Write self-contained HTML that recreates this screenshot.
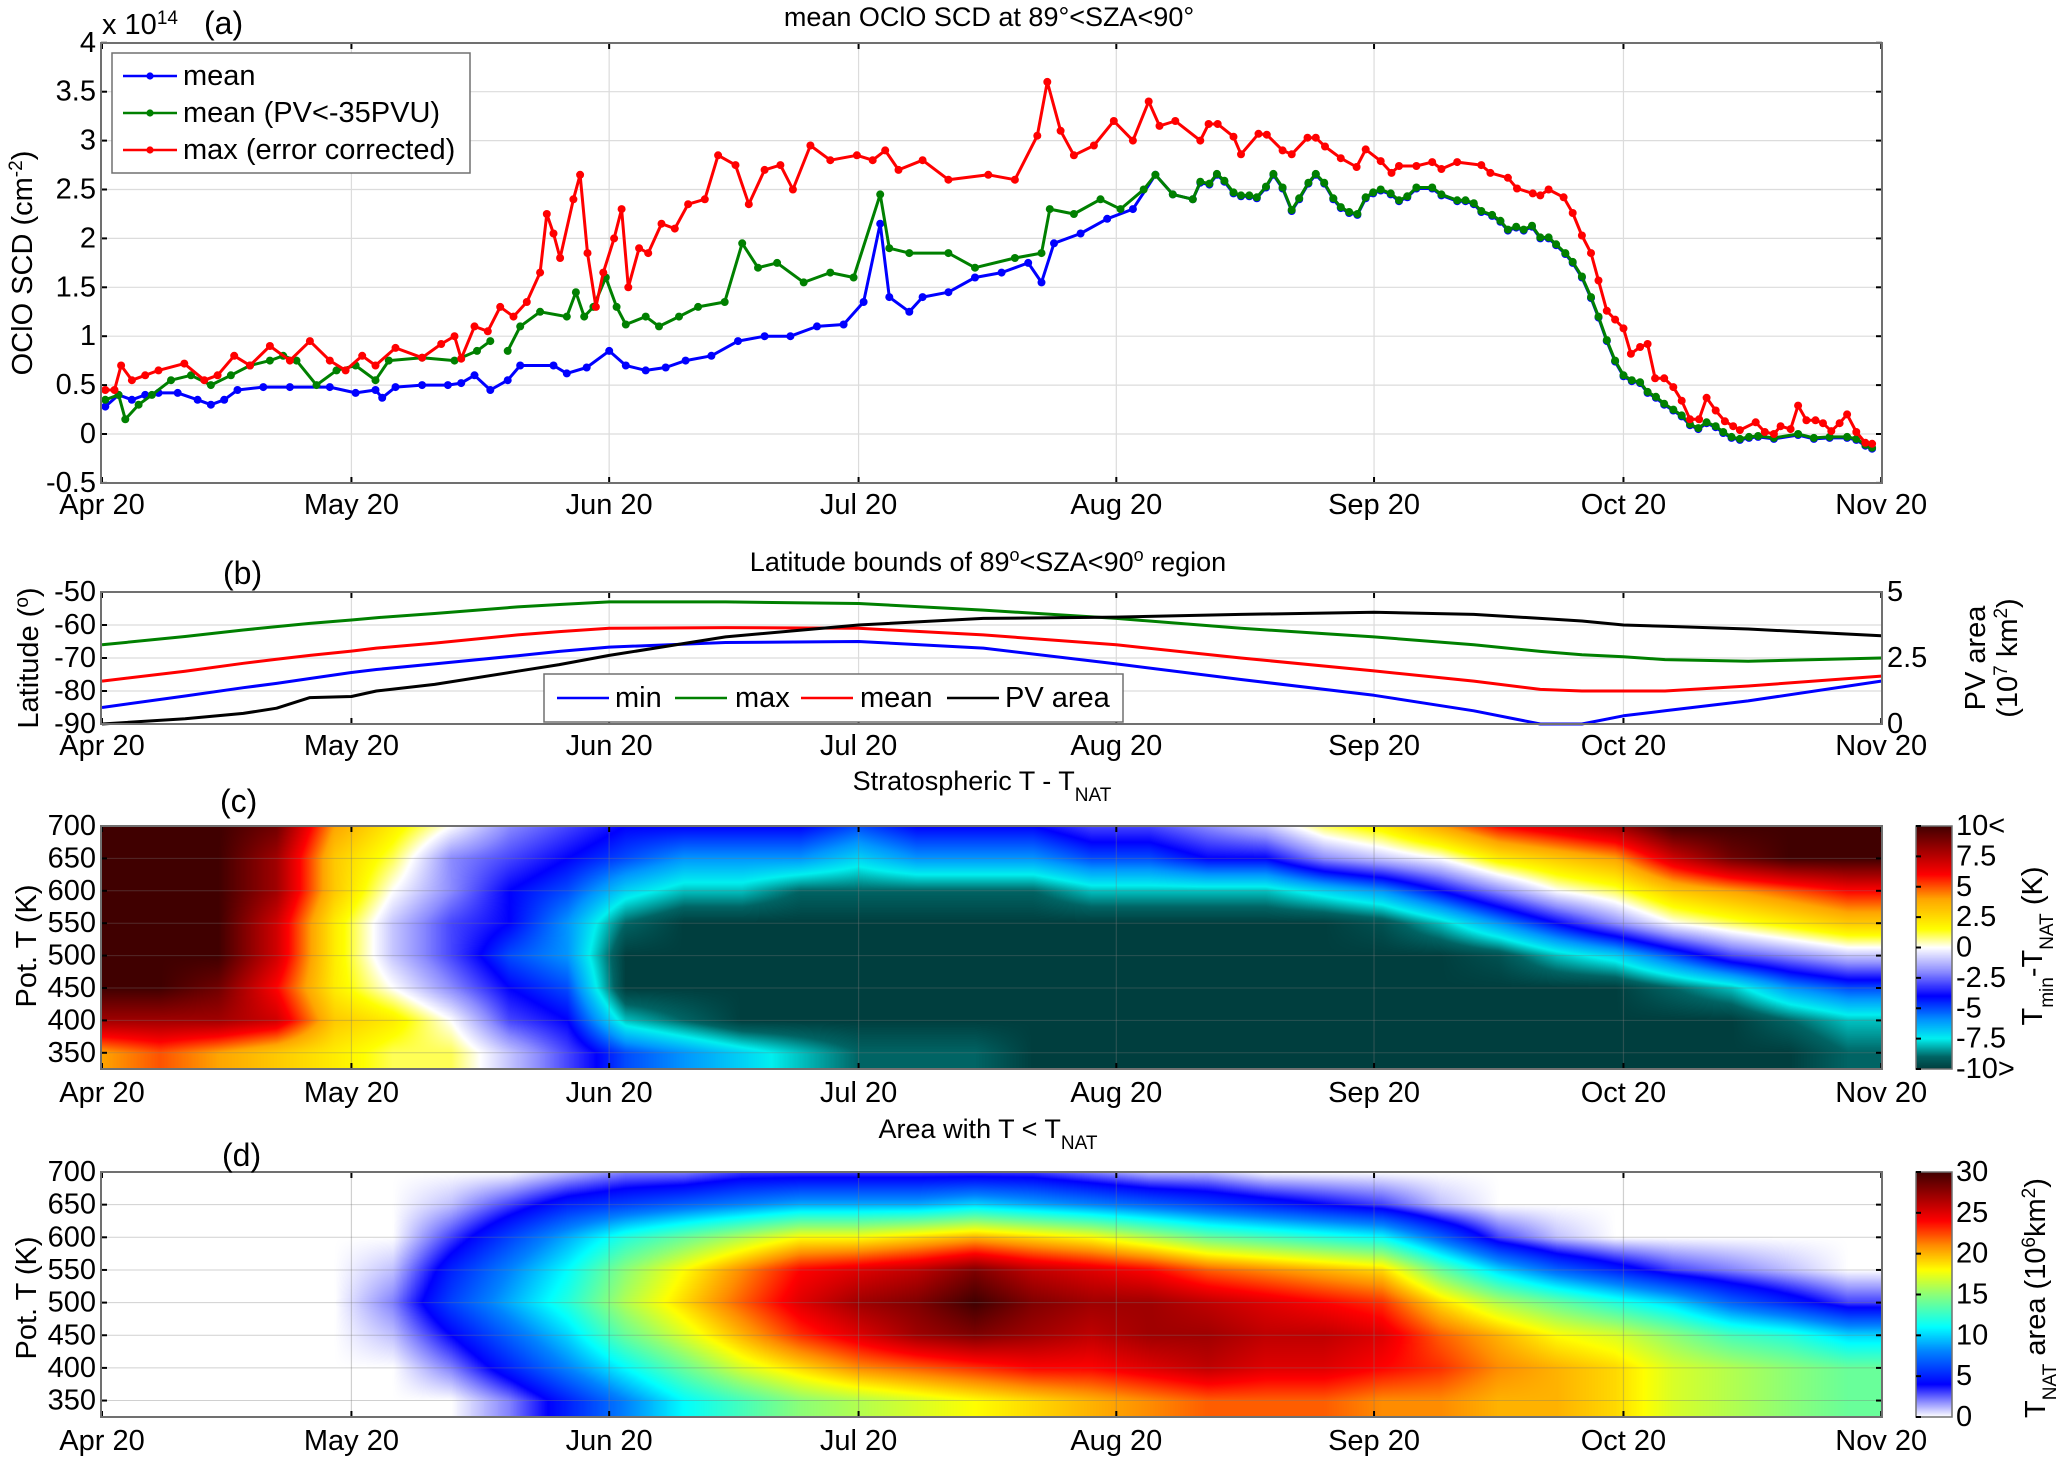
<!DOCTYPE html>
<html><head><meta charset="utf-8">
<style>
html,body{margin:0;padding:0;background:#fff;}
#wrap{position:relative;width:2067px;height:1459px;overflow:hidden;background:#fff;}
#heat{position:absolute;left:0;top:0;}
#fig{position:absolute;left:0;top:0;}
text{font-family:"Liberation Sans",Arial,sans-serif;fill:#000;}
</style></head>
<body>
<div id="wrap">
<canvas id="heat" width="2067" height="1459"></canvas>
<svg id="fig" width="2067" height="1459" xmlns="http://www.w3.org/2000/svg"></svg>
</div>
<script>
// ---------- Panel (a) data (days since Apr 20) ----------
const blueEarlyDays=[0.4,2,3.6,5.2,6.8,9.1,11.5,13.1,14.7,16.3,19.4,22.6,27.4,30.5,32.9,33.7,35.3,38.5,41.6,43.2,44.8,46.7,48.8,50.3,54.3,55.9,58.3,61,63,65.4,67.8,70.2,73.3,76.5,79.7,82.8,86,89.2,91.6,93.6,94.7,97.1,98.7,101.8,105,108.2,111.4,113,114.5,117.7,120.9,124,126.7,128.8,131.2];
const blueEarlyVals=[0.28,0.4,0.35,0.4,0.42,0.42,0.35,0.3,0.35,0.45,0.48,0.48,0.48,0.42,0.45,0.37,0.48,0.5,0.5,0.52,0.6,0.45,0.55,0.7,0.7,0.62,0.68,0.85,0.7,0.65,0.68,0.75,0.8,0.95,1.0,1.0,1.1,1.12,1.35,2.15,1.4,1.25,1.4,1.45,1.6,1.65,1.75,1.55,1.95,2.05,2.2,2.3,2.65,2.45,2.4];
const greenEarlyDays=[0.4,2,2.8,4.4,6,8.3,10.7,13.1,15.5,17.8,20.2,21.8,23.4,25.8,28.2,30.5,32.9,34.5,38.5,42.4,45.1,46.7,47.7,48.8,50.3,52.7,55.9,57,58,59.1,60.6,61.9,63,65.4,67,69.4,71.7,74.9,77,78.9,81.2,84.4,87.6,90.4,93.6,94.7,97.1,101.8,105,109.8,113,114,116.9,120.1,122.5,125.3,126.7,128.8,131.2];
const greenEarlyVals=[0.35,0.4,0.15,0.3,0.4,0.55,0.6,0.5,0.6,0.7,0.75,0.8,0.75,0.5,0.65,0.7,0.55,0.75,0.78,0.75,0.85,0.95,null,0.85,1.1,1.25,1.2,1.45,1.2,1.3,1.6,1.3,1.12,1.2,1.1,1.2,1.3,1.35,1.95,1.7,1.75,1.55,1.65,1.6,2.45,1.9,1.85,1.85,1.7,1.8,1.85,2.3,2.25,2.4,2.3,2.5,2.65,2.45,2.4];
const lateDays=[132.1,133.2,134.1,135,136.1,137,138,138.9,140,140.9,142,143.1,144,145.1,146,147,148.1,149,150,151,152,152.9,153.8,155,156,157,158.1,160,161.1,163,164,165,165.9,167.2,168.2,169.1,170.1,171,172,173,174,174.9,176,176.9,178,179.1,180,181,182,183,184,185,185.9,186.9,187.9,189,190,191,192,193,194.1,195,196,197,198.1,199.2,201.1,204,205.9,207.8,209.9,211,212.1,212.9];
const lateVals=[2.58,2.56,2.66,2.59,2.47,2.44,2.44,2.42,2.53,2.66,2.52,2.29,2.41,2.57,2.66,2.57,2.41,2.32,2.27,2.25,2.42,2.47,2.5,2.46,2.39,2.43,2.52,2.52,2.45,2.39,2.39,2.36,2.28,2.24,2.18,2.09,2.12,2.09,2.13,2.01,2.01,1.94,1.85,1.76,1.61,1.4,1.2,0.96,0.75,0.6,0.55,0.53,0.43,0.38,0.31,0.25,0.19,0.1,0.06,0.12,0.08,0.02,-0.03,-0.05,-0.03,-0.02,-0.04,0,-0.04,-0.03,-0.03,-0.05,-0.11,-0.14];
const redDays=[0.4,1.5,2.3,3.6,5.2,6.8,9.9,12.3,13.9,15.9,17.8,20.2,22.6,25,27.4,29.3,31.3,32.9,35.3,38.5,40.8,42.4,43.2,44.8,46.4,47.9,49.5,51.1,52.7,53.5,54.3,55.1,56.7,57.5,58.4,59.4,60.3,61.6,62.5,63.3,64.6,65.7,67.3,68.9,70.5,72.5,74.1,76.2,77.8,79.7,81.6,83.1,85.2,87.6,90.8,92.7,94.2,95.8,98.7,101.8,106.6,109.8,112.5,113.7,115.3,116.9,119.3,121.7,124,125.9,127.2,129.1,132.1,133.1,134.2,136.1,137,139.1,140.1,142,143.1,145,146,147.1,149,150.9,152,153.8,155.1,156,158.1,160,161.1,163,165.9,167,169.1,170.2,172.1,173,174,175.8,176.9,178,179.1,180,181,182,183,183.9,185,185.9,186.8,187.9,189,190,191,192.1,193,194.1,195.2,196.2,197,198.9,200,201.1,201.9,203.1,204,205,206.1,207,208,209,209.9,211,212.1,212.9];
const redVals=[0.45,0.45,0.7,0.55,0.6,0.65,0.72,0.55,0.6,0.8,0.7,0.9,0.75,0.95,0.75,0.65,0.8,0.7,0.88,0.78,0.92,1.0,0.77,1.1,1.05,1.3,1.2,1.35,1.65,2.25,2.05,1.8,2.4,2.65,1.85,1.3,1.65,2.0,2.3,1.5,1.9,1.85,2.15,2.1,2.35,2.4,2.85,2.75,2.35,2.7,2.75,2.5,2.95,2.8,2.85,2.8,2.9,2.7,2.8,2.6,2.65,2.6,3.05,3.6,3.1,2.85,2.95,3.2,3.0,3.4,3.15,3.2,3.0,3.17,3.17,3.04,2.86,3.07,3.06,2.9,2.86,3.03,3.03,2.94,2.82,2.73,2.91,2.79,2.67,2.74,2.74,2.78,2.71,2.78,2.75,2.67,2.62,2.51,2.46,2.44,2.5,2.42,2.26,2.03,1.85,1.57,1.26,1.17,1.08,0.82,0.89,0.92,0.57,0.57,0.48,0.34,0.15,0.15,0.37,0.24,0.13,0.08,0.04,0.12,0.02,0,0.08,0.05,0.29,0.14,0.14,0.11,0.03,0.11,0.2,0.02,-0.09,-0.1];
const aTicks=[-0.5,0,0.5,1,1.5,2,2.5,3,3.5,4];
const aTickLabels=["-0.5","0","0.5","1","1.5","2","2.5","3","3.5","4"];
const monthDays=[0,30,61,91,122,153,183,214];
const monthLabels=["Apr 20","May 20","Jun 20","Jul 20","Aug 20","Sep 20","Oct 20","Nov 20"];

// ---------- Panel (b) data ----------
const bDays=[0,10,17,21,25,30,33,40,50,55,61,75,91,106,122,137,153,165,173,178,183,188,198,214];
const latMin=[-85,-81.5,-79,-77.7,-76.2,-74.4,-73.5,-71.8,-69.3,-68,-66.7,-65.3,-65,-67,-71.8,-76.5,-81.3,-86,-90,-90,-87.5,-86,-83,-77];
const latMax=[-66,-63.5,-61.5,-60.5,-59.5,-58.5,-57.8,-56.5,-54.5,-53.8,-53,-53,-53.5,-55.5,-58,-61,-63.6,-66,-68,-69,-69.6,-70.5,-71,-70];
const latMean=[-77,-74,-71.6,-70.4,-69.2,-67.9,-67,-65.5,-63,-62,-61,-60.8,-61,-63,-66,-70,-73.9,-77,-79.5,-80,-80,-80,-78.5,-75.5];
const pvArea=[0,0.2,0.4,0.6,1.0,1.04,1.25,1.5,2.0,2.25,2.6,3.3,3.75,4.0,4.05,4.15,4.23,4.15,4.0,3.9,3.75,3.7,3.6,3.34];
const bLatTicks=[-90,-80,-70,-60,-50];
const bPvTicks=[0,2.5,5];

// ---------- Panel (c) data: T - T_NAT (K), columns every 7 days ----------
const heatDays=[0,7,14,21,28,35,42,49,56,63,70,77,84,91,98,105,112,119,126,133,140,147,154,161,168,175,182,189,196,203,210,217];
const thetaLevels=[700,650,600,550,500,450,400,350];
const cRow700=[10,10,10,9,4,2,0,-2,-3,-4,-4,-4,-4,-5,-4,-4,-4,-3,-3,-2,-1,1,2,4,6,7,8,10,10,10,10,10];
const cRow650=[10,10,10,8,3,1,-2,-3,-4,-5,-6,-6,-6,-7,-6,-6,-6,-5,-5,-4,-4,-2,-1,0,2,3,4,7,9,10,10,10];
const cRow600=[10,10,10,8,3,0,-2,-4,-5,-7,-8,-8,-9,-9,-9,-9,-9,-8,-8,-8,-8,-7,-6,-4,-2,0,1,3,4,5,6,6];
const cRow550=[10,10,10,7,2,-1,-3,-4,-6,-9,-10,-10,-10,-10,-10,-10,-10,-10,-10,-10,-10,-10,-9.5,-8,-6,-4,-2,0,1,2,3,3];
const cRow500=[10,10,10,7,2,-1,-3,-5,-6,-10,-10,-10,-10,-10,-10,-10,-10,-10,-10,-10,-10,-10,-10,-10,-9.5,-8,-7,-5,-3,-2,-1,-1];
const cRow450=[10,10,9,6,2,0,-2,-4,-5,-10,-10,-10,-10,-10,-10,-10,-10,-10,-10,-10,-10,-10,-10,-10,-10,-10,-10,-9,-8,-6,-5,-5];
const cRow400=[8,8,8,7,3,2,0,-3,-4,-8,-9,-10,-10,-10,-10,-10,-10,-10,-10,-10,-10,-10,-10,-10,-10,-10,-10,-10,-10,-9,-8,-8];
const cRow350=[4,5,4,3,2,1,1,-1,-3,-5,-6,-7,-8,-9,-9,-9,-10,-10,-10,-10,-10,-10,-10,-10,-10,-10,-10,-10,-10,-10,-9,-9];
const cTickVals=[10,7.5,5,2.5,0,-2.5,-5,-7.5,-10];
const cTickLabels=["10<","7.5","5","2.5","0","-2.5","-5","-7.5","-10>"];

// ---------- Panel (d) data: area T<T_NAT (10^6 km^2) ----------
const dRow700=[0,0,0,0,0,0,0,0,1,2,2,3,3,3,3,3,3,2,1,1,0,0,0,0,0,0,0,0,0,0,0,0];
const dRow650=[0,0,0,0,0,0,1,3,5,6,7,8,9,9,9,10,9,8,7,6,5,4,3,1,0,0,0,0,0,0,0,0];
const dRow600=[0,0,0,0,0,0,3,6,9,12,14,16,18,18,19,20,19,18,16,14,13,12,11,7,3,1,0,0,0,0,0,0];
const dRow550=[0,0,0,0,0,1,5,8,11,15,18,21,24,25,26,28,26,25,24,22,21,20,19,14,10,7,5,3,2,1,0,0];
const dRow500=[0,0,0,0,0,2,6,9,12,16,19,22,25,27,28,30,28,27,27,26,25,24,23,19,16,14,12,10,7,5,3,3];
const dRow450=[0,0,0,0,0,1,4,7,10,14,17,20,23,25,27,28,27,26,27,27,26,26,25,22,20,18,17,15,13,12,10,10];
const dRow400=[0,0,0,0,0,0,2,5,8,11,14,17,19,21,22,23,24,24,25,26,25,25,24,23,21,20,19,17,16,15,14,14];
const dRow350=[0,0,0,0,0,0,0,2,5,8,11,13,15,16,17,18,19,20,21,22,22,22,21,21,20,20,19,17,16,15,14,14];
const dTickVals=[0,5,10,15,20,25,30];
const thetaTicks=[350,400,450,500,550,600,650,700];

// ---------- geometry / scales ----------
const L=101,R=1882;
const X=d=>102+d*8.314;
const Ya=v=>434-v*97.8;
const Yb=lat=>592+(-50-lat)*3.3;
const Ybr=p=>724-p*26.4;
const Yc=th=>826+(700-th)*0.648;
const Yd=th=>1172+(700-th)*0.653;
const CB_X=1916,CB_W=36;

const NS="http://www.w3.org/2000/svg";
const svg=document.getElementById('fig');
function add(parent,tag,attrs,name,text){
  const el=document.createElementNS(NS,tag);
  for(const k in attrs) el.setAttribute(k,attrs[k]);
  
  
  if(text!==undefined) el.textContent=text;
  parent.appendChild(el);
  return el;
}
function group(name){const g=document.createElementNS(NS,'g');svg.appendChild(g);return g;}

const FS=29;
function xAxis(g,top,bot,labelY,grid){
  monthDays.forEach((d,i)=>{
    const x=X(d);
    if(grid && i>0 && i<monthDays.length-1) add(g,'line',{x1:x,x2:x,y1:top,y2:bot,stroke:grid,'stroke-width':1.2},'x-gridline');
    add(g,'line',{x1:x,x2:x,y1:bot,y2:bot-6,stroke:'#000','stroke-width':2},'x-tick');
    add(g,'line',{x1:x,x2:x,y1:top,y2:top+6,stroke:'#000','stroke-width':2},'x-tick-top');
    add(g,'text',{x:x,y:labelY,'font-size':FS,'text-anchor':'middle','dominant-baseline':'central'},'x-tick-label',monthLabels[i]);
  });
}
function box(g,top,bot){
  add(g,'rect',{x:L,y:top,width:R-L,height:bot-top,fill:'none',stroke:'#707070','stroke-width':2},'axes-box');
}
function polyline(g,days,vals,yf,color,name,markers){
  let segs=[],cur=[];
  const n=Math.min(days.length,vals.length);
  for(let i=0;i<n;i++){
    if(vals[i]===null){if(cur.length)segs.push(cur);cur=[];continue;}
    cur.push([X(days[i]),yf(vals[i])]);
  }
  if(cur.length)segs.push(cur);
  segs.forEach(s=>{
    add(g,'polyline',{points:s.map(p=>p[0].toFixed(1)+','+p[1].toFixed(1)).join(' '),fill:'none',stroke:color,'stroke-width':3,'stroke-linejoin':'round'},name+'-line');
    if(markers) s.forEach(p=>add(g,'circle',{cx:p[0].toFixed(1),cy:p[1].toFixed(1),r:4,fill:color},name+'-point'));
  });
}

// ================= Panel (a) =================
const ga=group('panel-a');
aTicks.forEach((v,i)=>{
  const y=Ya(v);
  if(i>0&&i<aTicks.length-1) add(ga,'line',{x1:L,x2:R,y1:y,y2:y,stroke:'#dcdcdc','stroke-width':1.2},'y-gridline');
  add(ga,'line',{x1:L,x2:L+6,y1:y,y2:y,stroke:'#000','stroke-width':2},'y-tick');
  add(ga,'line',{x1:R,x2:R-6,y1:y,y2:y,stroke:'#000','stroke-width':2},'y-tick-right');
  add(ga,'text',{x:96,y:y,'font-size':FS,'text-anchor':'end','dominant-baseline':'central'},'y-tick-label',aTickLabels[i]);
});
xAxis(ga,43,483,505,'#dcdcdc');
polyline(ga,blueEarlyDays.concat(lateDays),blueEarlyVals.concat(lateVals.map(v=>v-0.01)),Ya,'#0000ff','mean-series',true);
polyline(ga,greenEarlyDays.concat(lateDays),greenEarlyVals.concat(lateVals),Ya,'#008000','mean-pv-series',true);
polyline(ga,redDays,redVals,Ya,'#ff0000','max-series',true);
box(ga,43,483);
const lg=add(ga,'g',{},'legend-a');
add(lg,'rect',{x:112,y:53,width:358,height:120,fill:'#fff',stroke:'#707070','stroke-width':1.5},'legend-box');
[['mean','#0000ff',76],['mean (PV<-35PVU)','#008000',113],['max (error corrected)','#ff0000',150]].forEach(e=>{
  add(lg,'line',{x1:123,x2:177,y1:e[2],y2:e[2],stroke:e[1],'stroke-width':2.6},'legend-line');
  add(lg,'circle',{cx:150,cy:e[2],r:3.6,fill:e[1]},'legend-marker');
  add(lg,'text',{x:183,y:e[2],'font-size':FS,'dominant-baseline':'central'},'legend-label',e[0]);
});
const ylab=add(ga,'text',{x:0,y:0,'font-size':FS,'text-anchor':'middle',transform:'translate(32,263) rotate(-90)'},'y-axis-title-a');
ylab.innerHTML='OClO SCD (cm<tspan baseline-shift="super" font-size="19">-2</tspan>)';
const exp=add(ga,'text',{x:102,y:34,'font-size':FS},'y-axis-exponent');
exp.innerHTML='x 10<tspan baseline-shift="super" font-size="19">14</tspan>';
add(ga,'text',{x:204,y:34,'font-size':32},'panel-label-a','(a)');
add(ga,'text',{x:989,y:26,'font-size':FS-2,'text-anchor':'middle'},'title-a','mean OClO SCD at 89°<SZA<90°');

// ================= Panel (b) =================
const gb=group('panel-b');
bLatTicks.forEach(v=>{
  const y=Yb(v);
  if(v>-90&&v<-50) add(gb,'line',{x1:L,x2:R,y1:y,y2:y,stroke:'#dcdcdc','stroke-width':1.2},'y-gridline');
  add(gb,'line',{x1:L,x2:L+6,y1:y,y2:y,stroke:'#000','stroke-width':2},'y-tick');
  add(gb,'text',{x:96,y:y,'font-size':FS,'text-anchor':'end','dominant-baseline':'central'},'y-tick-label',String(v));
});
bPvTicks.forEach(v=>{
  const y=Ybr(v);
  add(gb,'line',{x1:R,x2:R-6,y1:y,y2:y,stroke:'#000','stroke-width':2},'y2-tick');
  add(gb,'text',{x:1887,y:y,'font-size':FS,'dominant-baseline':'central'},'y2-tick-label',String(v));
});
xAxis(gb,592,724,746,'#dcdcdc');
polyline(gb,bDays,latMin,Yb,'#0000ff','lat-min',false);
polyline(gb,bDays,latMax,Yb,'#008000','lat-max',false);
polyline(gb,bDays,latMean,Yb,'#ff0000','lat-mean',false);
polyline(gb,bDays,pvArea,Ybr,'#000000','pv-area',false);
box(gb,592,724);
const lgb=add(gb,'g',{},'legend-b');
add(lgb,'rect',{x:544,y:674,width:579,height:48,fill:'#fff',stroke:'#707070','stroke-width':1.5},'legend-box');
[['min','#0000ff',557,615],['max','#008000',675,735],['mean','#ff0000',801,860],['PV area','#000',947,1005]].forEach(e=>{
  add(lgb,'line',{x1:e[2],x2:e[2]+52,y1:698,y2:698,stroke:e[1],'stroke-width':2.6},'legend-line');
  add(lgb,'text',{x:e[3],y:698,'font-size':FS,'dominant-baseline':'central'},'legend-label',e[0]);
});
const ylb=add(gb,'text',{x:0,y:0,'font-size':FS,'text-anchor':'middle',transform:'translate(38,658) rotate(-90)'},'y-axis-title-b');
ylb.innerHTML='Latitude (<tspan baseline-shift="super" font-size="19">o</tspan>)';
add(gb,'text',{x:0,y:0,'font-size':FS,'text-anchor':'middle',transform:'translate(1985,658) rotate(-90)'},'y2-axis-title-b-line1','PV area');
const y2b=add(gb,'text',{x:0,y:0,'font-size':FS,'text-anchor':'middle',transform:'translate(2017,658) rotate(-90)'},'y2-axis-title-b-line2');
y2b.innerHTML='(10<tspan baseline-shift="super" font-size="19">7</tspan> km<tspan baseline-shift="super" font-size="19">2</tspan>)';
add(gb,'text',{x:223,y:584,'font-size':32},'panel-label-b','(b)');
const tb=add(gb,'text',{x:988,y:571,'font-size':FS-2,'text-anchor':'middle'},'title-b');
tb.innerHTML='Latitude bounds of 89<tspan baseline-shift="super" font-size="18">o</tspan>&lt;SZA&lt;90<tspan baseline-shift="super" font-size="18">o</tspan> region';

// ================= Heatmaps (canvas) =================
const cv=document.getElementById('heat');
const ctx=cv.getContext('2d');
function lerpMap(stops,v){
  if(v<=stops[0][0]) return stops[0][1];
  for(let i=1;i<stops.length;i++){
    if(v<=stops[i][0]){const a=stops[i-1],b=stops[i];const t=(v-a[0])/(b[0]-a[0]);
      return [a[1][0]+t*(b[1][0]-a[1][0]),a[1][1]+t*(b[1][1]-a[1][1]),a[1][2]+t*(b[1][2]-a[1][2])];}
  }
  return stops[stops.length-1][1];
}
const cmapC=[[-10,[0,62,62]],[-9,[0,100,100]],[-7.5,[0,240,240]],[-6,[0,150,255]],[-4,[0,0,255]],[-2,[140,140,255]],[0,[255,255,255]],[1.5,[255,255,0]],[4,[255,165,0]],[6,[255,0,0]],[8,[160,0,0]],[10,[64,0,0]]];
const cmapD=[[0,[255,255,255]],[2,[130,130,255]],[4,[0,0,255]],[8,[0,130,255]],[11,[0,255,255]],[15,[140,255,120]],[18,[255,255,0]],[21,[255,140,0]],[24,[255,0,0]],[30,[64,0,0]]];
function drawHeat(rows,yTop,yBot,scale,cmap){
  const w=R-L,h=yBot-yTop;
  const img=ctx.createImageData(w,h);
  const nC=heatDays.length;
  for(let py=0;py<h;py++){
    const th=700-(py+0.5)/scale;
    let rf=(700-th)/50; rf=Math.max(0,Math.min(rows.length-1,rf));
    const r0=Math.floor(rf),r1=Math.min(rows.length-1,r0+1),tr=rf-r0;
    for(let px=0;px<w;px++){
      const day=(L+px+0.5-102)/8.314;
      let cf=day/7; cf=Math.max(0,Math.min(nC-1,cf));
      const c0=Math.floor(cf),c1=Math.min(nC-1,c0+1),tc=cf-c0;
      const g=(r,c)=>{const row=rows[r];const v=row[c];return v===undefined?row[row.length-1]:v;};
      const v=(1-tr)*((1-tc)*g(r0,c0)+tc*g(r0,c1))+tr*((1-tc)*g(r1,c0)+tc*g(r1,c1));
      const col=lerpMap(cmap,v);const k=(py*w+px)*4;
      img.data[k]=col[0];img.data[k+1]=col[1];img.data[k+2]=col[2];img.data[k+3]=255;
    }
  }
  ctx.putImageData(img,L,yTop);
}
function drawBar(yTop,yBot,vmin,vmax,cmap){
  for(let py=yTop;py<yBot;py++){
    const v=vmax-(py-yTop+0.5)/(yBot-yTop)*(vmax-vmin);
    const c=lerpMap(cmap,v);
    ctx.fillStyle='rgb('+c.map(Math.round).join(',')+')';
    ctx.fillRect(CB_X,py,CB_W,1);
  }
}
drawHeat([cRow700,cRow650,cRow600,cRow550,cRow500,cRow450,cRow400,cRow350],826,1069,0.648,cmapC);
drawHeat([dRow700,dRow650,dRow600,dRow550,dRow500,dRow450,dRow400,dRow350],1172,1417,0.653,cmapD);
drawBar(826,1069,-10,10,cmapC);
drawBar(1172,1417,0,30,cmapD);

// ================= Panel (c) axes =================
function thetaAxes(g,Yf,top,bot,labelY,gridCol){
  thetaTicks.forEach(t=>{
    const y=Yf(t);
    if(t<700) add(g,'line',{x1:L,x2:R,y1:y,y2:y,stroke:gridCol,'stroke-width':1},'y-gridline');
    add(g,'line',{x1:L,x2:L+6,y1:y,y2:y,stroke:'#000','stroke-width':2},'y-tick');
    add(g,'line',{x1:R,x2:R-6,y1:y,y2:y,stroke:'#000','stroke-width':2},'y-tick-right');
    add(g,'text',{x:96,y:y,'font-size':FS,'text-anchor':'end','dominant-baseline':'central'},'y-tick-label',String(t));
  });
  xAxis(g,top,bot,labelY,gridCol);
  box(g,top,bot);
}
const gc=group('panel-c');
thetaAxes(gc,Yc,826,1069,1093,'rgba(120,120,120,0.35)');
add(gc,'text',{x:0,y:0,'font-size':FS,'text-anchor':'middle',transform:'translate(36,946) rotate(-90)'},'y-axis-title-c','Pot. T (K)');
add(gc,'text',{x:220,y:812,'font-size':32},'panel-label-c','(c)');
const tc=add(gc,'text',{x:982,y:790,'font-size':FS-2,'text-anchor':'middle'},'title-c');
tc.innerHTML='Stratospheric T - T<tspan baseline-shift="sub" font-size="19">NAT</tspan>';
add(gc,'rect',{x:CB_X,y:826,width:CB_W,height:243,fill:'none',stroke:'#707070','stroke-width':1.5},'colorbar-c');
cTickVals.forEach((v,i)=>{
  const y=826+(10-v)/20*243;
  add(gc,'line',{x1:CB_X,x2:CB_X+5,y1:y,y2:y,stroke:'#000','stroke-width':2},'colorbar-tick');
  add(gc,'text',{x:1956,y:y,'font-size':FS,'dominant-baseline':'central'},'colorbar-tick-label',cTickLabels[i]);
});
const cbl=add(gc,'text',{x:0,y:0,'font-size':FS,'text-anchor':'middle',transform:'translate(2042,946) rotate(-90)'},'colorbar-title-c');
cbl.innerHTML='T<tspan baseline-shift="sub" font-size="19">min</tspan>-T<tspan baseline-shift="sub" font-size="19">NAT</tspan> (K)';

// ================= Panel (d) axes =================
const gd=group('panel-d');
thetaAxes(gd,Yd,1172,1417,1441,'rgba(120,120,120,0.35)');
add(gd,'text',{x:0,y:0,'font-size':FS,'text-anchor':'middle',transform:'translate(36,1298) rotate(-90)'},'y-axis-title-d','Pot. T (K)');
add(gd,'text',{x:222,y:1166,'font-size':32},'panel-label-d','(d)');
const td=add(gd,'text',{x:988,y:1138,'font-size':FS-2,'text-anchor':'middle'},'title-d');
td.innerHTML='Area with T &lt; T<tspan baseline-shift="sub" font-size="19">NAT</tspan>';
add(gd,'rect',{x:CB_X,y:1172,width:CB_W,height:245,fill:'none',stroke:'#707070','stroke-width':1.5},'colorbar-d');
dTickVals.forEach(v=>{
  const y=1417-v/30*245;
  add(gd,'line',{x1:CB_X,x2:CB_X+5,y1:y,y2:y,stroke:'#000','stroke-width':2},'colorbar-tick');
  add(gd,'text',{x:1956,y:y,'font-size':FS,'dominant-baseline':'central'},'colorbar-tick-label',String(v));
});
const dbl=add(gd,'text',{x:0,y:0,'font-size':FS,'text-anchor':'middle',transform:'translate(2045,1298) rotate(-90)'},'colorbar-title-d');
dbl.innerHTML='T<tspan baseline-shift="sub" font-size="19">NAT</tspan> area (10<tspan baseline-shift="super" font-size="19">6</tspan>km<tspan baseline-shift="super" font-size="19">2</tspan>)';
</script>
</body></html>
